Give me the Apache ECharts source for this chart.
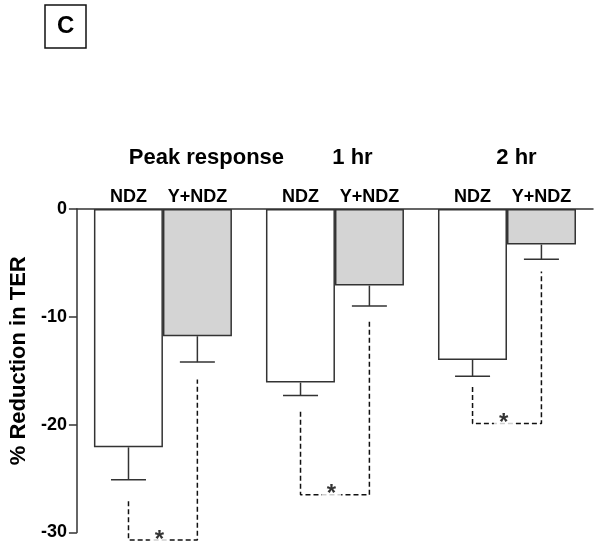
<!DOCTYPE html>
<html>
<head>
<meta charset="utf-8">
<script src="https://cdn.jsdelivr.net/npm/echarts@6/dist/echarts.min.js"></script>
<style>
html,body{margin:0;padding:0;background:#fff;}
#chart{width:600px;height:546px;}
</style>
</head>
<body>
<div id="chart"></div>
<script>
// ---- data ----
const groups = ['Peak response', '1 hr', '2 hr'];
const seriesNames = ['NDZ', 'Y+NDZ'];
const ndzMean = [-22.1, -16.1, -14.0];
const ndzSem = [3.0, 1.2, 1.5];
const yndzMean = [-11.8, -7.1, -3.3];
const yndzSem = [2.4, 1.9, 1.35];
// significance brackets: left-leg top, bottom, right-leg top
const bracketLeftTop = [-27.1, -18.8, -16.5];
const bracketBottom = [-30.7, -26.5, -19.9];
const bracketRightTop = [-15.8, -10.4, -5.8];
const sigMark = ['*', '*', '*'];
const yTicks = [0, -10, -20, -30];

// ---- layout constants ----
const W = 600, H = 546;
const gridLeft = 76, gridRight = 7, gridTop = 209, gridBottom = 13.5;
const barWidth = 69;
const bandWidth = (W - gridLeft - gridRight) / groups.length;
const off = (barWidth / 2) / bandWidth;
const capHalf = 17.5;
const titlePad = [87, 35, 19];

const chart = echarts.init(document.getElementById('chart'));

const errData = [];
groups.forEach((g, i) => {
  errData.push([i - off, ndzMean[i], ndzMean[i] - ndzSem[i]]);
  errData.push([i + off, yndzMean[i], yndzMean[i] - yndzSem[i]]);
});

const bracketSeries = groups.map((g, i) => ({
  type: 'line',
  xAxisIndex: 2,
  yAxisIndex: 0,
  clip: false,
  symbol: 'none',
  silent: true,
  lineStyle: { color: '#111', width: 1.5, type: [5, 3] },
  data: [
    [i - off, bracketLeftTop[i]],
    [i - off, bracketBottom[i]],
    [i + off, bracketBottom[i]],
    [i + off, bracketRightTop[i]]
  ],
  z: 3
}));

const richTitle = {};
titlePad.forEach((p, i) => {
  richTitle['t' + i] = {
    fontSize: 22, fontWeight: 'bold', color: '#000',
    fontFamily: 'Liberation Sans, Arial, sans-serif',
    padding: [0, 0, 0, p]
  };
});

const option = {
  animation: false,
  backgroundColor: '#fff',
  title: {
    text: 'C',
    left: 45, top: 5,
    padding: [9, 12, 10, 12],
    borderColor: '#111', borderWidth: 1.5,
    textStyle: { fontSize: 24, fontWeight: 'bold', color: '#000', fontFamily: 'Liberation Sans, Arial, sans-serif' }
  },
  grid: { left: gridLeft, right: gridRight, top: gridTop, bottom: gridBottom, containLabel: false },
  xAxis: [
    {
      type: 'category', position: 'top', data: groups,
      axisLine: { show: true, onZero: false, lineStyle: { color: '#333', width: 1.5 } },
      axisTick: { show: false },
      splitLine: { show: false },
      axisLabel: {
        margin: 3, interval: 0,
        formatter: () => '{n|' + seriesNames[0] + '}{y|' + seriesNames[1] + '}',
        rich: {
          n: { width: barWidth, align: 'center', fontSize: 18, fontWeight: 'bold', color: '#000', fontFamily: 'Liberation Sans, Arial, sans-serif' },
          y: { width: barWidth, align: 'center', fontSize: 18, fontWeight: 'bold', color: '#000', fontFamily: 'Liberation Sans, Arial, sans-serif' }
        }
      }
    },
    {
      type: 'category', position: 'top', data: groups,
      axisLine: { show: false, onZero: false }, axisTick: { show: false }, splitLine: { show: false },
      axisLabel: {
        margin: 40, interval: 0,
        formatter: (v, i) => '{t' + i + '|' + v + '}',
        rich: richTitle
      }
    },
    {
      type: 'value', min: -0.5, max: 2.5, show: false
    }
  ],
  yAxis: {
    type: 'value', min: -30, max: 0, interval: 10,
    position: 'left',
    name: '% Reduction in TER',
    nameLocation: 'middle', nameGap: 42,
    nameTextStyle: { fontSize: 22, fontWeight: 'bold', color: '#000', fontFamily: 'Liberation Sans, Arial, sans-serif', padding: [0, 0, 0, 20] },
    axisLine: { show: true, onZero: false, lineStyle: { color: '#333', width: 1.5 } },
    axisTick: { show: true, length: 8, lineStyle: { color: '#333', width: 1.5 } },
    splitLine: { show: false },
    axisLabel: {
      margin: 10, fontSize: 18, fontWeight: 'bold', color: '#000',
      fontFamily: 'Liberation Sans, Arial, sans-serif',
      formatter: v => yTicks.includes(v) ? String(v) : ''
    }
  },
  series: [
    {
      name: seriesNames[0], type: 'bar', xAxisIndex: 0, yAxisIndex: 0,
      data: ndzMean, barWidth: barWidth, barGap: '0%',
      itemStyle: { color: '#fff', borderColor: '#333', borderWidth: 1.5 },
      z: 2
    },
    {
      name: seriesNames[1], type: 'bar', xAxisIndex: 0, yAxisIndex: 0,
      data: yndzMean, barWidth: barWidth, barGap: '0%',
      itemStyle: { color: '#d4d4d4', borderColor: '#333', borderWidth: 1.5 },
      z: 2
    },
    {
      type: 'custom', xAxisIndex: 2, yAxisIndex: 0, clip: false, silent: true,
      data: errData,
      renderItem: (params, api) => {
        const p1 = api.coord([api.value(0), api.value(1)]);
        const p2 = api.coord([api.value(0), api.value(2)]);
        const st = { stroke: '#333', lineWidth: 1.5 };
        return {
          type: 'group',
          children: [
            { type: 'line', shape: { x1: p1[0], y1: p1[1], x2: p2[0], y2: p2[1] }, style: st },
            { type: 'line', shape: { x1: p2[0] - capHalf, y1: p2[1], x2: p2[0] + capHalf, y2: p2[1] }, style: st }
          ]
        };
      },
      z: 3
    },
    ...bracketSeries,
    {
      type: 'scatter', xAxisIndex: 2, yAxisIndex: 0, clip: false, silent: true,
      symbolSize: 1,
      itemStyle: { color: 'rgba(0,0,0,0)' },
      data: groups.map((g, i) => [i - 0.02, bracketBottom[i], sigMark[i]]),
      label: {
        show: true, position: 'inside',
        formatter: p => p.data[2],
        fontSize: 24, fontWeight: 'bold', color: '#000',
        fontFamily: 'Liberation Sans, Arial, sans-serif',
        backgroundColor: '#fff', padding: [0, 5, 0, 5],
        offset: [0, 0]
      },
      z: 5
    }
  ]
};
chart.setOption(option);
</script>
</body>
</html>
